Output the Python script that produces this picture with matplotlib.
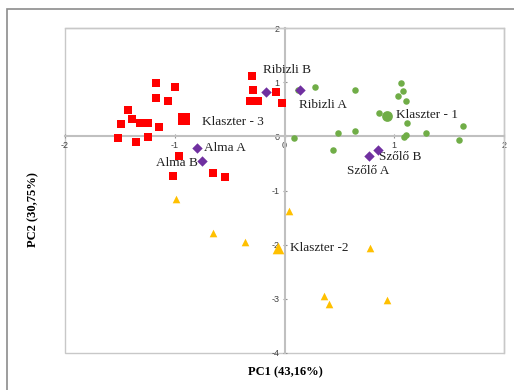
import matplotlib
matplotlib.use("Agg")
import matplotlib.pyplot as plt
from matplotlib.patches import Rectangle

# Cluster 3 (red squares)
k3_x = [-1.17, -1.00, -1.17, -1.06, -1.43, -1.49, -1.39, -1.315, -1.24, -1.14, -1.52, -1.35, -1.24,
        -0.96, -1.02, -0.65, -0.54, -0.30, -0.29, -0.315, -0.24, -0.08, -0.02]
k3_y = [0.99, 0.91, 0.70, 0.66, 0.49, 0.23, 0.32, 0.25, 0.25, 0.18, -0.03, -0.11, -0.02,
        -0.37, -0.73, -0.68, -0.75, 1.12, 0.85, 0.65, 0.65, 0.82, 0.62]
k3_c = (-0.92, 0.32)

# Cluster 1 (green circles)
k1_x = [0.12, 0.28, 0.64, 1.057, 1.08, 1.03, 1.11, 0.86, 1.12, 1.63, 1.29, 0.64, 0.49, 1.105, 1.09,
        1.59, 0.09, 0.44]
k1_y = [0.86, 0.92, 0.85, 0.98, 0.83, 0.75, 0.66, 0.44, 0.245, 0.19, 0.06, 0.105, 0.07, 0.03, -0.01,
        -0.06, -0.03, -0.25]
k1_c = (0.93, 0.38)

# Cluster 2 (yellow triangles)
k2_x = [-0.99, -0.65, -0.36, 0.045, 0.78, 0.36, 0.41, 0.93]
k2_y = [-1.15, -1.79, -1.95, -1.37, -2.06, -2.95, -3.09, -3.03]
k2_c = (-0.055, -2.06)

# Samples (purple diamonds)
s_names = ["Alma A", "Alma B", "Ribizli B", "Ribizli A", "Szőlő B", "Szőlő A"]
s_x = [-0.80, -0.75, -0.17, 0.145, 0.855, 0.77]
s_y = [-0.21, -0.45, 0.82, 0.85, -0.25, -0.36]
s_lab_x = [-0.73, -1.17, -0.20, 0.13, 0.86, 0.57]
s_lab_y = [-0.21, -0.49, 1.22, 0.57, -0.38, -0.64]

clusters = ["Klaszter - 1", "Klaszter -2", "Klaszter - 3"]
cl_lab_x = [1.02, 0.05, -0.75]
cl_lab_y = [0.40, -2.06, 0.26]

xticks = [-2, -1, 0, 1, 2]
yticks = [-4, -3, -2, -1, 0, 1, 2]

fig = plt.figure(figsize=(5.14, 3.90), dpi=100)
ax = fig.add_axes([65/514, 37/390, 439/514, 325/390])
ax.set_xlim(-2, 2)
ax.set_ylim(-4, 2)

# outer figure border (only top/left visible)
fig.patches.append(Rectangle((7/514, -0.1), 1.2, 1 - 9/390 + 0.1, transform=fig.transFigure,
                             fill=False, edgecolor="#8c8c8c", lw=1.2))

gray = "#c8c8c8"
for s in ["top", "right"]:
    ax.spines[s].set_color(gray)
    ax.spines[s].set_linewidth(1.0)
ax.spines["left"].set_position(("data", 0))
ax.spines["bottom"].set_position(("data", 0))
ax.spines["left"].set_color("#c0c0c0")
ax.spines["bottom"].set_color("#c0c0c0")
ax.spines["left"].set_linewidth(1.5)
ax.spines["bottom"].set_linewidth(1.5)
ax.add_patch(Rectangle((0, 0), 1, 1, transform=ax.transAxes, fill=False, edgecolor=gray, lw=1.0, clip_on=False))

ax.set_xticks(xticks)
ax.set_yticks(yticks)
ax.set_xticklabels([str(t) for t in xticks])
ax.set_yticklabels([str(t) for t in yticks])
ax.tick_params(axis="both", labelsize=6.5, colors="#404040", length=3, width=0.8, direction="inout",
               pad=2)
ax.tick_params(axis="x", color="#909090")
ax.tick_params(axis="y", color="#909090")
for lab in ax.get_xticklabels() + ax.get_yticklabels():
    lab.set_fontfamily("Liberation Sans")

ax.scatter(k3_x, k3_y, marker="s", s=28, color="#ff0000", zorder=3, linewidths=0)
ax.scatter([k3_c[0]], [k3_c[1]], marker="s", s=70, color="#ff0000", zorder=3, linewidths=0)
ax.scatter(k1_x, k1_y, marker="o", s=22, color="#70ad47", zorder=3, linewidths=0)
ax.scatter([k1_c[0]], [k1_c[1]], marker="o", s=60, color="#70ad47", zorder=3, linewidths=0)
ax.scatter(k2_x, k2_y, marker="^", s=30, color="#ffc000", zorder=3, linewidths=0)
ax.scatter([k2_c[0]], [k2_c[1]], marker="^", s=70, color="#ffc000", zorder=3, linewidths=0)
ax.scatter(s_x, s_y, marker="D", s=28, color="#7030a0", zorder=4, linewidths=0)

tf = dict(fontfamily="Liberation Serif", fontsize=9.5, color="#202020", va="center", ha="left")
for n, x, y in zip(s_names, s_lab_x, s_lab_y):
    ax.text(x, y, n, **tf)
for n, x, y in zip(clusters, cl_lab_x, cl_lab_y):
    ax.text(x, y, n, **tf)

fig.text(285/514, 1 - 372/390, "PC1 (43,16%)", ha="center", va="center",
         fontfamily="Liberation Serif", fontweight="bold", fontsize=9)
fig.text(33/514, 1 - 210/390, "PC2 (30,75%)", ha="center", va="center", rotation=90,
         fontfamily="Liberation Serif", fontweight="bold", fontsize=9)

fig.savefig("out.png", dpi=100)
